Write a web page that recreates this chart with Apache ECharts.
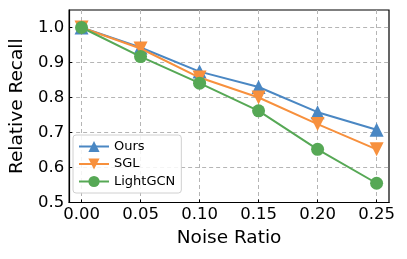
<!DOCTYPE html>
<html><head><meta charset="utf-8">
<script src="https://cdn.jsdelivr.net/npm/echarts@6/dist/echarts.min.js"></script>
<style>html,body{margin:0;padding:0;background:#fff}#c{width:407px;height:259px}</style>
</head><body><div id="c"></div>
<script>
const noiseRatios = [0.00, 0.05, 0.10, 0.15, 0.20, 0.25];
const ours = [1.000, 0.943, 0.874, 0.830, 0.758, 0.708];
const sgl = [1.000, 0.940, 0.857, 0.800, 0.724, 0.652];
const lightgcn = [1.000, 0.917, 0.841, 0.762, 0.652, 0.555];
const xTicks = [0.00, 0.05, 0.10, 0.15, 0.20, 0.25];
const yTicks = [0.5, 0.6, 0.7, 0.8, 0.9, 1.0];
const seriesNames = ['Ours', 'SGL', 'LightGCN'];

const FONT = 'DejaVu Sans';
const colors = ['#4a87c3', '#f7903d', '#56a855'];
function pairs(ys) { return noiseRatios.map((x, i) => [x, ys[i]]); }

const chart = echarts.init(document.getElementById('c'), null, {renderer: 'canvas'});
chart.setOption({
  animation: false,
  backgroundColor: '#fff',
  grid: {left: 67, right: 18, top: 10, bottom: 56.5, show: true, borderColor: '#000', borderWidth: 1.2, backgroundColor: 'transparent'},
  xAxis: {
    type: 'value', min: -0.0105, max: 0.2605,
    name: 'Noise Ratio', nameLocation: 'middle', nameGap: 26,
    nameTextStyle: {fontFamily: FONT, fontSize: 18.5, color: '#000'},
    axisLine: {show: true, onZero: false, lineStyle: {color: '#000', width: 1.2}},
    axisTick: {show: true, inside: true, length: 3, customValues: xTicks, lineStyle: {color: '#000'}},
    axisLabel: {customValues: xTicks, margin: 4, fontFamily: FONT, fontSize: 16.5, color: '#000', formatter: v => v.toFixed(2)},
    splitLine: {show: true, lineStyle: {color: '#b5b5b5', type: [4, 3], width: 1}}
  },
  yAxis: {
    type: 'value', min: 0.5, max: 1.05,
    name: 'Relative Recall', nameLocation: 'middle', nameGap: 39,
    nameTextStyle: {fontFamily: FONT, fontSize: 18.5, color: '#000'},
    axisLine: {show: true, onZero: false, lineStyle: {color: '#000', width: 1.2}},
    axisTick: {show: true, inside: true, length: 3, customValues: yTicks, lineStyle: {color: '#000'}},
    axisLabel: {customValues: yTicks, margin: 5, fontFamily: FONT, fontSize: 16.5, color: '#000', formatter: v => v.toFixed(1)},
    splitLine: {show: true, lineStyle: {color: '#b5b5b5', type: [4, 3], width: 1}}
  },
  legend: {
    orient: 'vertical', left: 73, top: 135,
    padding: [5, 6, 5, 5], itemGap: 4.5, itemWidth: 30, itemHeight: 14,
    backgroundColor: 'rgba(255,255,255,0.85)', borderColor: '#d0d0d0', borderWidth: 1, borderRadius: 3,
    textStyle: {fontFamily: FONT, fontSize: 13, color: '#000'},
    data: seriesNames
  },
  series: [
    {name: seriesNames[0], type: 'line', data: pairs(ours), symbol: 'triangle', symbolSize: 14, clip: false,
     color: colors[0], lineStyle: {width: 2}, itemStyle: {color: colors[0]}, z: 3},
    {name: seriesNames[1], type: 'line', data: pairs(sgl), symbol: 'triangle', symbolRotate: 180, symbolSize: 14, clip: false,
     color: colors[1], lineStyle: {width: 2}, itemStyle: {color: colors[1]}, z: 4},
    {name: seriesNames[2], type: 'line', data: pairs(lightgcn), symbol: 'circle', symbolSize: 13, clip: false,
     color: colors[2], lineStyle: {width: 2}, itemStyle: {color: colors[2]}, z: 5}
  ]
});
</script></body></html>
